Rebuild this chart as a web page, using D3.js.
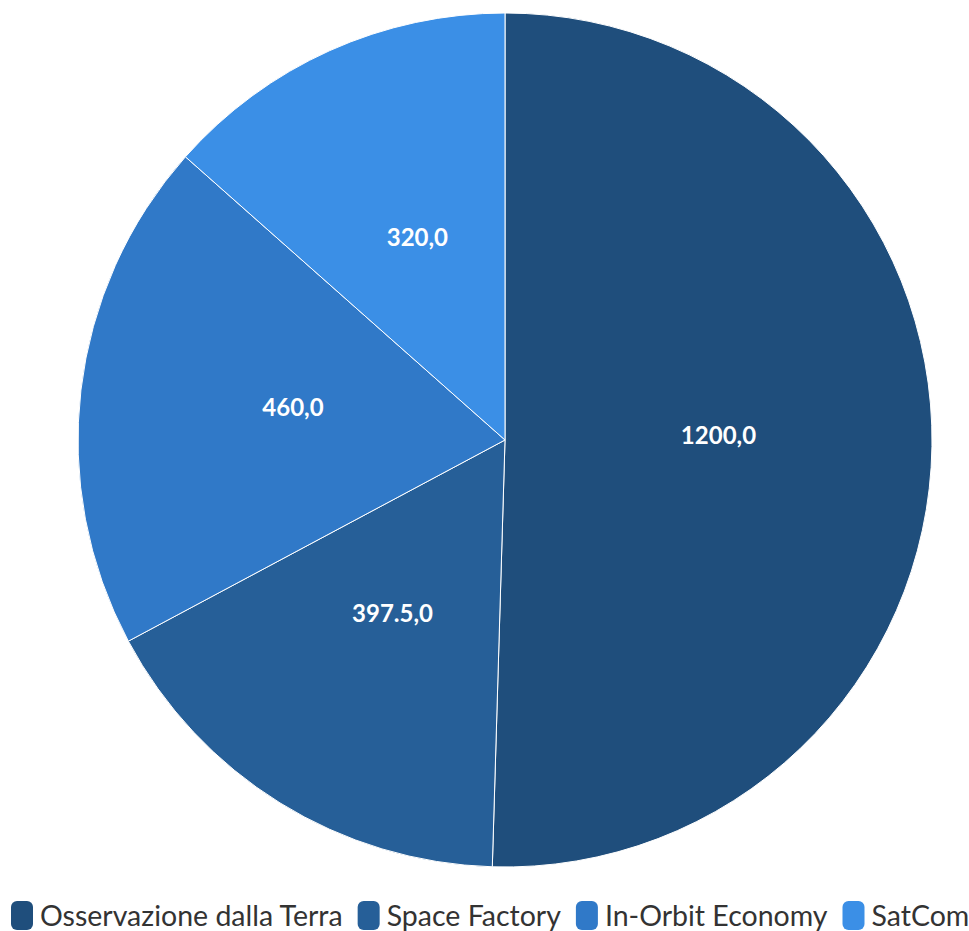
<!DOCTYPE html>
<html>
<head>
<meta charset="utf-8">
<script src="https://cdn.jsdelivr.net/npm/d3@7"></script>
<style>
  body{margin:0;background:#fff;}
  svg{display:block;}
</style>
</head>
<body>
<svg id="chart" width="969" height="931"></svg>
<script>
const categories = ["Osservazione dalla Terra", "Space Factory", "In-Orbit Economy", "SatCom"];
const values = [1200, 397.5, 460, 320];
const labels = ["1200,0", "397.5,0", "460,0", "320,0"];
const colors = ["#1f4e7c", "#265f98", "#3079c8", "#3b8fe6"];

const svg = d3.select("#chart");
const cx = 505, cy = 440, radius = 427;

const pie = d3.pie().sort(null).value(d => d.value);
const arc = d3.arc().innerRadius(0).outerRadius(radius);
const data = categories.map((c, i) => ({name: c, value: values[i], label: labels[i], color: colors[i]}));

const g = svg.append("g").attr("transform", `translate(${cx},${cy})`);
const slices = g.selectAll("g.slice").data(pie(data)).enter().append("g").attr("class", "slice");

slices.append("path")
  .attr("d", arc)
  .attr("fill", d => d.data.color)
  .attr("stroke", "#fff")
  .attr("stroke-width", 1);

slices.append("text")
  .attr("transform", d => `translate(${arc.centroid(d)})`)
  .attr("text-anchor", "middle")
  .attr("dy", 1)
  .attr("fill", "#fff")
  .attr("font-family", "Lato, sans-serif")
  .attr("font-weight", "bold")
  .attr("font-size", 24)
  .text(d => d.data.label);

// legend
const legend = svg.append("g").attr("transform", "translate(0,926)");
let x = 11;
data.forEach(d => {
  const item = legend.append("g").attr("transform", `translate(${x},0)`);
  item.append("rect").attr("x", 0).attr("y", -25).attr("width", 22).attr("height", 29)
    .attr("rx", 6).attr("fill", d.color);
  const t = item.append("text").attr("x", 29).attr("y", 0)
    .attr("font-family", "Lato, sans-serif")
    .attr("font-size", 28.5)
    .attr("fill", "#333")
    .text(d.name);
  x += 29 + t.node().getComputedTextLength() + 15;
});
</script>
</body>
</html>
